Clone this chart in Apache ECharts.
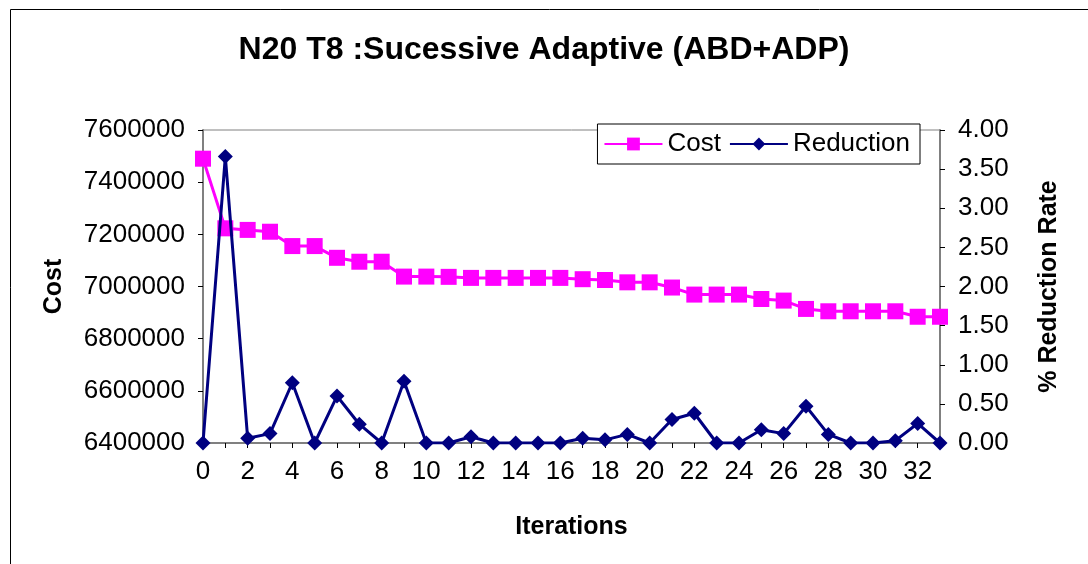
<!DOCTYPE html>
<html>
<head>
<meta charset="utf-8">
<script src="https://cdn.jsdelivr.net/npm/echarts@6/dist/echarts.min.js"></script>
<style>
  html, body { margin: 0; padding: 0; background: #fff; }
  #chart { width: 1088px; height: 564px; }
</style>
</head>
<body>
<div id="chart"></div>
<script>
// iterations 0..33
var iterations = []
for (var i = 0; i <= 33; i++) iterations.push(String(i))

var costData = [
  7490000, 7223000, 7217000, 7210000, 7155000, 7155000, 7110000, 7095000, 7095000, 7038000,
  7038000, 7037000, 7033000, 7033000, 7033000, 7033000, 7033000, 7028000, 7025000, 7016000,
  7016000, 6996000, 6969000, 6969000, 6969000, 6952000, 6946000, 6914000, 6905000, 6905000,
  6905000, 6905000, 6884000, 6884000
]

var reductionData = [
  0, 3.66, 0.06, 0.12, 0.77, 0, 0.60, 0.24, 0, 0.79,
  0, 0, 0.08, 0, 0, 0, 0, 0.06, 0.04, 0.11,
  0, 0.30, 0.38, 0, 0, 0.17, 0.12, 0.47, 0.11, 0,
  0, 0.03, 0.25, 0
]

var fontFamily = '"Liberation Sans", Arial, sans-serif'

var chart = echarts.init(document.getElementById('chart'))
chart.setOption({
  animation: false,
  textStyle: { fontFamily: fontFamily },
  title: {
    text: 'N20 T8 :Sucessive Adaptive (ABD+ADP)',
    left: 'center',
    top: 29,
    textStyle: { fontSize: 32, fontWeight: 'bold', color: '#000', fontFamily: fontFamily }
  },
  graphic: [{
    type: 'rect',
    shape: { x: 10.5, y: 9.5, width: 1200, height: 700 },
    style: { fill: 'none', stroke: '#000', lineWidth: 1 },
    silent: true
  }],
  legend: {
    right: 168,
    top: 124,
    itemGap: 8,
    itemWidth: 58,
    itemHeight: 16,
    padding: [7, 10, 7, 6],
    borderColor: '#000',
    borderWidth: 1,
    backgroundColor: '#fff',
    textStyle: { fontSize: 26, color: '#000', fontFamily: fontFamily },
    data: ['Cost', 'Reduction']
  },
  grid: {
    left: 203,
    right: 148,
    top: 130,
    bottom: 121,
    show: true,
    borderColor: '#808080',
    borderWidth: 1
  },
  xAxis: {
    type: 'category',
    data: iterations,
    boundaryGap: false,
    name: 'Iterations',
    nameLocation: 'middle',
    nameGap: 72,
    nameTextStyle: { fontSize: 25, fontWeight: 'bold', color: '#000' },
    axisLine: { lineStyle: { color: '#808080', width: 2 } },
    axisTick: { interval: 0, length: 5, lineStyle: { color: '#000' } },
    axisLabel: { interval: 1, fontSize: 26, color: '#000', margin: 16 },
    splitLine: { show: false }
  },
  yAxis: [{
    type: 'value',
    min: 6400000,
    max: 7600000,
    interval: 200000,
    name: 'Cost',
    nameLocation: 'middle',
    nameGap: 136,
    nameTextStyle: { fontSize: 25, fontWeight: 'bold', color: '#000' },
    axisLine: { show: true, lineStyle: { color: '#808080', width: 2 } },
    axisTick: { show: true, length: 5, lineStyle: { color: '#000' } },
    axisLabel: {
      fontSize: 26,
      color: '#000',
      margin: 18,
      formatter: function (v) { return String(v) }
    },
    splitLine: { show: false }
  }, {
    type: 'value',
    min: 0,
    max: 4,
    interval: 0.5,
    name: '% Reduction Rate',
    nameLocation: 'middle',
    nameGap: 97,
    nameRotate: 90,
    nameTextStyle: { fontSize: 25, fontWeight: 'bold', color: '#000' },
    axisLine: { show: true, lineStyle: { color: '#808080', width: 2 } },
    axisTick: { show: true, length: 5, lineStyle: { color: '#000' } },
    axisLabel: {
      fontSize: 26,
      color: '#000',
      margin: 18,
      formatter: function (v) { return v.toFixed(2) }
    },
    splitLine: { show: false }
  }],
  series: [{
    name: 'Cost',
    type: 'line',
    yAxisIndex: 0,
    data: costData,
    symbol: 'rect',
    symbolSize: 16,
    showAllSymbol: true,
    itemStyle: { color: '#FF00FF' },
    lineStyle: { color: '#FF00FF', width: 3 },
    z: 2
  }, {
    name: 'Reduction',
    type: 'line',
    yAxisIndex: 1,
    data: reductionData,
    symbol: 'diamond',
    symbolSize: 15,
    showAllSymbol: true,
    itemStyle: { color: '#000080' },
    lineStyle: { color: '#000080', width: 3 },
    z: 3
  }]
})
</script>
</body>
</html>
